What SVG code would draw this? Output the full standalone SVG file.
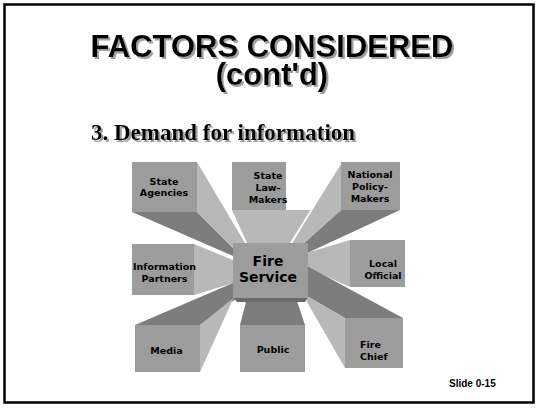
<svg xmlns="http://www.w3.org/2000/svg" width="539" height="409" viewBox="0 0 539 409">
<defs>
<filter id="shadow" x="-5%" y="-20%" width="110%" height="140%">
<feOffset in="SourceAlpha" dx="2" dy="2" result="off"/>
<feFlood flood-color="#a0a0a0"/>
<feComposite in2="off" operator="in" result="sh"/>
<feMerge><feMergeNode in="sh"/><feMergeNode in="SourceGraphic"/></feMerge>
</filter>
<filter id="shadow2" x="-5%" y="-20%" width="110%" height="140%">
<feOffset in="SourceAlpha" dx="1.5" dy="1.5" result="off"/>
<feFlood flood-color="#a0a0a0"/>
<feComposite in2="off" operator="in" result="sh"/>
<feMerge><feMergeNode in="sh"/><feMergeNode in="SourceGraphic"/></feMerge>
</filter>
</defs>
<style>
.front{fill:#9c9c9c}
.lite{fill:#b8b8b8}
.dark{fill:#7d7d7d}
.shade{fill:#6a6a6a}
.lbl{font-family:"DejaVu Sans",Verdana,sans-serif;font-weight:bold;font-size:9.5px;fill:#000;text-anchor:middle}
.lbl.start{text-anchor:start}
.big{font-family:"DejaVu Sans",Verdana,sans-serif;font-weight:bold;font-size:14px;fill:#000;text-anchor:middle}
.title{font-family:"Liberation Sans",Arial,sans-serif;font-weight:bold;font-size:31px;text-anchor:middle;fill:#000}
.sub{font-family:"Liberation Serif","Times New Roman",serif;font-weight:bold;font-size:23px;fill:#000}
</style>
<rect width="539" height="409" fill="#fff"/>
<rect x="4.5" y="4.5" width="529" height="398" fill="none" stroke="#000" stroke-width="2.5"/>
<g id="title">
<text class="title" x="272" y="57" filter="url(#shadow)">FACTORS CONSIDERED</text>
<text class="title" x="272" y="85" filter="url(#shadow)">(cont'd)</text>
<text class="sub" x="91" y="140" filter="url(#shadow2)">3. Demand for information</text>
</g>
<g id="connectors">
<polygon class="dark" points="132,212 197,212 240,255 240,259"/>
<polygon class="lite" points="197,162 197,212 240,255 245,255 245,243"/>
<polygon class="lite" points="232,210 311,210 291,243 291,252 251,252"/>
<polygon class="dark" points="341,210 400,210 303,255 302,245"/>
<polygon class="lite" points="341,162 341,210 302,245 302,252 287,252"/>
<line x1="341" y1="162.5" x2="289" y2="246" stroke="#fff" stroke-width="1.5"/>
<polygon class="lite" points="194,244 194,295 240,281 240,263"/>
<polygon class="lite" points="350,240 350,287 303,266 303,254"/>
<polygon class="dark" points="135,325 200,325 240,296 240,280"/>
<polygon class="lite" points="200,325 200,372 234,297 236,296"/>
<polygon class="dark" points="240,325 305,325 296,298 247,298"/>
<polygon class="dark" points="345,318 403,318 305,265 305,295"/>
<polygon class="lite" points="345,318 345,368 307,302 305,295"/>
</g>
<g id="state-agencies">
<rect class="front" x="132" y="162" width="65" height="50"/>
<text class="lbl" x="164" y="185">State</text>
<text class="lbl" x="164" y="196">Agencies</text>
</g>
<g id="state-law-makers">
<rect class="front" x="232" y="162" width="54" height="48"/>
<text class="lbl" x="268" y="179">State</text>
<text class="lbl" x="268" y="191">Law-</text>
<text class="lbl" x="268" y="203">Makers</text>
</g>
<g id="national-policy-makers">
<rect class="front" x="341" y="162" width="59" height="48"/>
<text class="lbl" x="370" y="178">National</text>
<text class="lbl" x="370" y="190">Policy-</text>
<text class="lbl" x="370" y="202">Makers</text>
</g>
<g id="information-partners">
<rect class="front" x="132" y="244" width="62" height="51"/>
<text class="lbl" x="164.5" y="270">Information</text>
<text class="lbl" x="164.5" y="282">Partners</text>
</g>
<g id="local-official">
<rect class="front" x="350" y="240" width="55" height="47"/>
<text class="lbl" x="383" y="267">Local</text>
<text class="lbl" x="383" y="279">Official</text>
</g>
<g id="media">
<rect class="front" x="135" y="325" width="65" height="47"/>
<text class="lbl" x="166.5" y="354">Media</text>
</g>
<g id="public">
<rect class="front" x="240" y="325" width="65" height="47"/>
<text class="lbl" x="273" y="353">Public</text>
</g>
<g id="fire-chief">
<rect class="front" x="345" y="318" width="58" height="50"/>
<text class="lbl start" x="360" y="348">Fire</text>
<text class="lbl start" x="360" y="360">Chief</text>
</g>
<g id="fire-service">
<polygon class="shade" points="233,297 308,297 305,302 237,302"/>
<rect class="front" x="233" y="243" width="75" height="55"/>
<text class="big" x="268" y="266">Fire</text>
<text class="big" x="268" y="282">Service</text>
</g>
<g id="slide-number">
<text x="449" y="387" font-family="Liberation Sans, Arial, sans-serif" font-weight="bold" font-size="10">Slide 0-15</text>
</g>
</svg>
